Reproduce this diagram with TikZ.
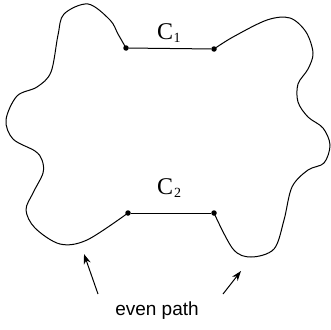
\documentclass[tikz,border=0pt]{standalone}
\usepackage{fontspec}
\setmainfont{Liberation Serif}
\newfontfamily\labelsans{Liberation Sans}
\newcommand{\subidx}[1]{\raisebox{-3pt}{\fontsize{14}{14}\selectfont #1}}
\tikzset{
  dotpt/.style={circle,fill=black,inner sep=0pt,minimum size=5.5pt},
  outline/.style={line width=1pt,line join=round},
  lab/.style={font=\fontsize{24}{26}\selectfont,inner sep=0pt,anchor=base west},
  arrowline/.style={line width=1pt,-{Stealth[length=10pt,width=7pt]}}
}
\usetikzlibrary{arrows.meta}
\begin{document}
\begin{tikzpicture}[x=1pt,y=-1pt]
\useasboundingbox (0,0) rectangle (331,329);
\node[dotpt] (A) at (126,48) {};
\node[dotpt] (B) at (214,49) {};
\node[dotpt] (C) at (128,213) {};
\node[dotpt] (D) at (214,213) {};
\draw[outline] (A) -- (B);
\draw[outline] (C) -- (D);
\node[lab] (c1) at (157,39) {C\kern0.5pt\subidx{1}};
\node[lab] (c2) at (157,194) {C\kern1pt\subidx{2}};
\draw[outline] plot[smooth,tension=0.55] coordinates {(214,49) (233,37) (267,20) (290,18) (306,32) (313,53) (308,69) (298,84) (298,102) (308,117) (323,128) (330,145) (324,163) (308,170) (292,187) (284,220) (274,249) (251,257) (233,249) (214,213)};
\draw[outline] plot[smooth,tension=0.55] coordinates {(128,213) (87,240) (60,244) (35,228) (26,210) (33,193) (43,173) (42,160) (35,151) (13,139) (6,120) (17,96) (37,87) (51,72) (58,35) (64,14) (88,4) (110,20) (118,34) (126,48)};
\node[font=\labelsans\fontsize{19}{22}\selectfont] (ep) at (157,311) {even path};
\coordinate (t1) at (98,294);
\coordinate (h1) at (84,254);
\coordinate (t2) at (223,294);
\coordinate (h2) at (241,271);
\draw[arrowline] (t1) -- (h1);
\draw[arrowline] (t2) -- (h2);
\end{tikzpicture}
\end{document}
